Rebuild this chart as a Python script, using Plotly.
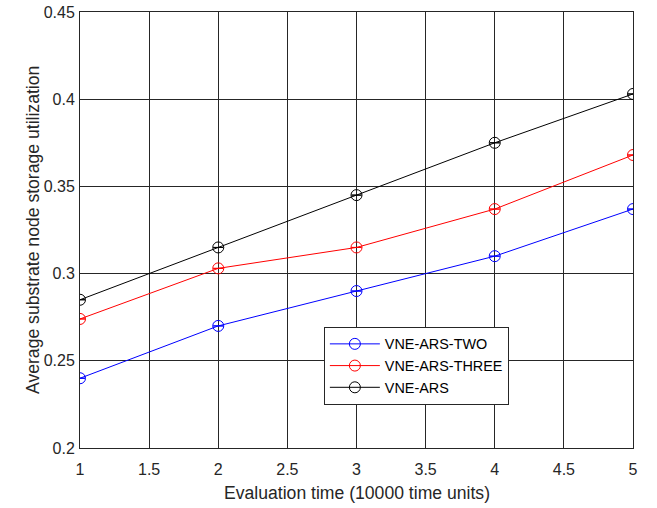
import plotly.graph_objects as go

x_vals = [1, 2, 3, 4, 5]
two_vals = [0.240, 0.270, 0.290, 0.310, 0.337]
three_vals = [0.274, 0.303, 0.315, 0.337, 0.368]
ars_vals = [0.285, 0.315, 0.345, 0.375, 0.403]
series_names = ["VNE-ARS-TWO", "VNE-ARS-THREE", "VNE-ARS"]
series_colors = ["#0000ff", "#ff0000", "#000000"]
x_ticks = [1, 1.5, 2, 2.5, 3, 3.5, 4, 4.5, 5]
y_ticks = [0.2, 0.25, 0.3, 0.35, 0.4, 0.45]
x_title = "Evaluation time (10000 time units)"
y_title = "Average substrate node storage utilization"

fig = go.Figure()
for name, vals, col in zip(series_names, [two_vals, three_vals, ars_vals], series_colors):
    fig.add_trace(go.Scatter(
        x=x_vals, y=vals, name=name, mode="lines+markers",
        line=dict(color=col, width=1),
        marker=dict(symbol="circle-open", size=11, color=col, line=dict(width=1, color=col)),
        error_y=dict(type="data", array=[0] * len(vals), width=5, thickness=1, color=col, visible=True),
    ))

font_family = "Liberation Sans, Arial, sans-serif"
fig.update_layout(
    width=657, height=508,
    margin=dict(l=80, r=24, t=12, b=60),
    paper_bgcolor="white", plot_bgcolor="white",
    font=dict(family=font_family, size=16, color="#262626"),
    showlegend=True,
    legend=dict(
        x=0.441, y=0.2775, xanchor="left", yanchor="top",
        bordercolor="#262626", borderwidth=1, bgcolor="white",
        font=dict(size=14.4, color="#000000"),
        tracegroupgap=0, itemwidth=50,
    ),
    xaxis=dict(
        range=[1, 5], tickvals=x_ticks, ticktext=[f"{v:g}" for v in x_ticks],
        showgrid=True, gridcolor="#262626", gridwidth=1,
        showline=True, linecolor="#262626", linewidth=1, mirror=True,
        ticks="inside", ticklen=5, tickcolor="#262626",
        ticklabelstandoff=7,
        zeroline=False, automargin=False,
    ),
    yaxis=dict(
        range=[0.2, 0.45], tickvals=y_ticks, ticktext=[f"{v:g}" for v in y_ticks],
        showgrid=True, gridcolor="#262626", gridwidth=1,
        showline=True, linecolor="#262626", linewidth=1, mirror=True,
        ticks="inside", ticklen=5, tickcolor="#262626",
        ticklabelstandoff=1,
        zeroline=False, automargin=False,
    ),
    annotations=[
        dict(text=x_title, xref="paper", yref="paper", x=0.5, y=0, yshift=-45,
             xanchor="center", yanchor="middle", showarrow=False,
             font=dict(size=17.6, color="#262626")),
        dict(text=y_title, xref="paper", yref="paper", x=0, y=0.5, xshift=-47,
             xanchor="center", yanchor="middle", textangle=-90, showarrow=False,
             font=dict(size=17.6, color="#262626")),
    ],
)

fig.write_html("out.html", config={"displayModeBar": False},
               post_script="document.body.style.margin='0';")
